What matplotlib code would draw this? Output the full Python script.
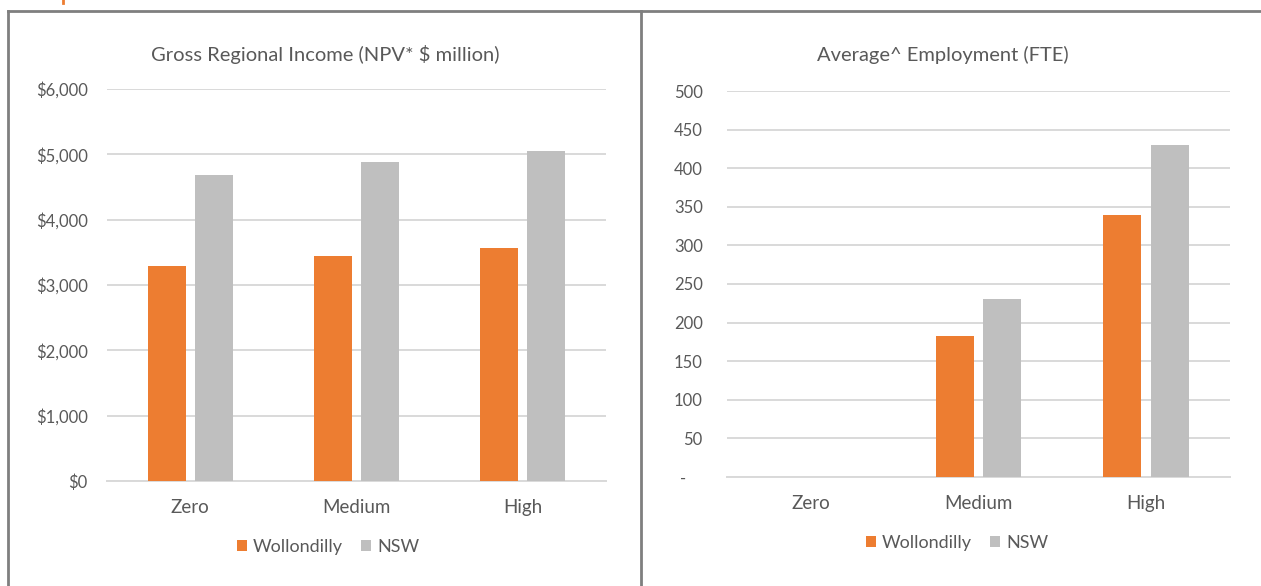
import numpy as np
import matplotlib
matplotlib.use("Agg")
from matplotlib import pyplot as plt
from matplotlib.lines import Line2D

plt.rcParams['font.family'] = ['Lato', 'DejaVu Sans']

scenarios = ["Zero", "Medium", "High"]
series = ["Wollondilly", "NSW"]

# Gross regional income, NPV $ million
gri_wollondilly = [3290, 3440, 3570]
gri_nsw = [4690, 4890, 5050]

# Average employment, FTE
emp_wollondilly = [0, 183, 339]
emp_nsw = [0, 230, 430]

orange = "#ED7D31"
grey = "#BFBFBF"
text_col = "#595959"
grid_col = "#D9D9D9"

W, H = 1261, 586
fig = plt.figure(figsize=(W / 100, H / 100), dpi=100)


def px_axes(x0, y0, x1, y1):
    # axes from pixel box (top-left origin)
    return fig.add_axes([x0 / W, 1 - y1 / H, (x1 - x0) / W, (y1 - y0) / H])


def bar_panel(ax, w_vals, n_vals, ymax, step, fmt, ypad):
    x = np.arange(len(scenarios))
    bw = 0.228
    off = 0.142
    ax.bar(x - off, w_vals, bw, color=orange, label=series[0], zorder=3)
    ax.bar(x + off, n_vals, bw, color=grey, label=series[1], zorder=3)
    ax.set_xlim(-0.5, 2.5)
    ax.set_ylim(0, ymax)
    ticks = np.arange(0, ymax + step, step)
    ax.set_yticks(ticks)
    ax.set_yticklabels([fmt(t) for t in ticks])
    ax.set_xticks(x)
    ax.set_xticklabels(scenarios)
    ax.grid(axis="y", color=grid_col, linewidth=1.4, zorder=0)
    for s in ["top", "right", "left"]:
        ax.spines[s].set_visible(False)
    ax.spines["bottom"].set_color(grid_col)
    ax.spines["bottom"].set_linewidth(1.4)
    ax.tick_params(axis="both", length=0, colors=text_col)
    ax.tick_params(axis="y", pad=ypad, labelsize=12)
    ax.tick_params(axis="x", pad=13, labelsize=13.5)


ax1 = px_axes(107, 89, 606, 481)
bar_panel(ax1, gri_wollondilly, gri_nsw, 6000, 1000,
          lambda v: "${:,.0f}".format(v), 14)

ax2 = px_axes(727, 91, 1230, 477)
bar_panel(ax2, emp_wollondilly, emp_nsw, 500, 50,
          lambda v: "{:.0f}".format(v) if v > 0 else "-    ", 17.5)

fig.text(325 / W, 1 - 55 / H, "Gross Regional Income (NPV* $ million)",
         ha="center", va="center", fontsize=14.5, color=text_col)
fig.text(943 / W, 1 - 55 / H, "Average^ Employment (FTE)",
         ha="center", va="center", fontsize=14.5, color=text_col)

for ax, cx, cy in [(ax1, 328, 547), (ax2, 957, 543)]:
    ax.legend(loc="center", bbox_to_anchor=(cx / W, 1 - cy / H),
              bbox_transform=fig.transFigure, ncol=2, frameon=False,
              handlelength=0.55, handleheight=0.55, handletextpad=0.35,
              columnspacing=1.0, fontsize=13, labelcolor=text_col)

# chart frames
frame = dict(color="#7F7F7F", linewidth=2, transform=fig.transFigure)
fig.add_artist(Line2D([8 / W, 1], [1 - 10.5 / H] * 2, **frame))
fig.add_artist(Line2D([8 / W] * 2, [0, 1 - 10.5 / H], **frame))
fig.add_artist(Line2D([641 / W] * 2, [0, 1 - 10.5 / H], **frame))
fig.add_artist(Line2D([62.5 / W] * 2, [1 - 3 / H, 1], color=orange,
                      linewidth=2, transform=fig.transFigure))

fig.savefig("out.png", dpi=100, facecolor="white")
